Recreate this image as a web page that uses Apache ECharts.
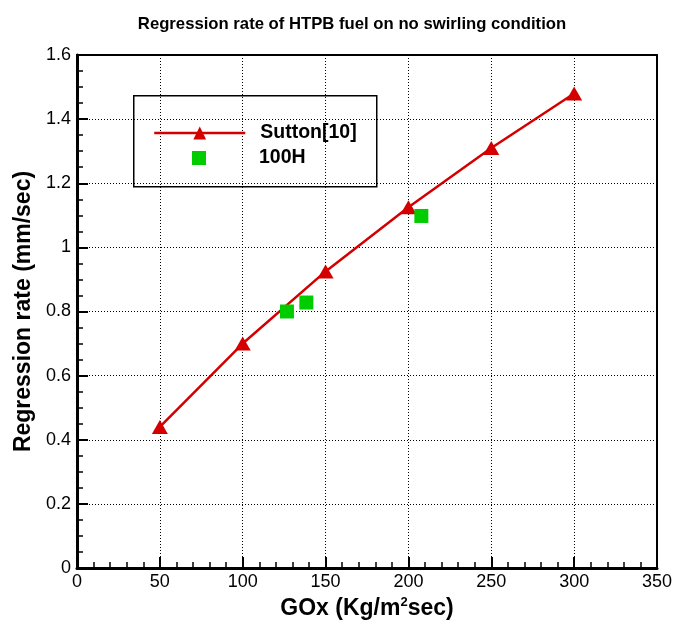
<!DOCTYPE html>
<html>
<head>
<meta charset="utf-8">
<script src="https://cdn.jsdelivr.net/npm/echarts@6/dist/echarts.min.js"></script>
<style>
  html, body { margin: 0; padding: 0; background: #fff; }
  #chart { width: 673px; height: 621px; }
</style>
</head>
<body>
<div id="chart"></div>
<script>
// Sutton[10] correlation: oxidizer mass flux vs. regression rate
const suttonGox = [50, 100, 150, 200, 250, 300];
const suttonRate = [0.44, 0.70, 0.925, 1.125, 1.31, 1.48];

// 100H measurements
const h100Gox = [126.7, 138.4, 207.8];
const h100Rate = [0.80, 0.828, 1.098];

const FONT = '"Liberation Sans", Arial, sans-serif';
const RED = '#d40000';
const GREEN = '#00cc00';

const chart = echarts.init(document.getElementById('chart'), null, { renderer: 'canvas' });

const pairs = (xs, ys) => xs.map((x, i) => [x, ys[i]]);

chart.setOption({
  backgroundColor: '#ffffff',
  animation: false,
  title: {
    text: 'Regression rate of HTPB fuel on no swirling condition',
    left: 347,
    textAlign: 'center',
    top: 11,
    textStyle: { fontFamily: FONT, fontSize: 16.7, fontWeight: 'bold', color: '#000' }
  },
  grid: {
    left: 77, right: 16, top: 55, bottom: 53,
    outerBoundsMode: 'none',
    show: true, borderColor: '#000', borderWidth: 2, backgroundColor: 'transparent'
  },
  legend: [
    {
      data: ['Sutton[10]'],
      left: 153, top: 123,
      itemWidth: 91, itemHeight: 16, padding: 0,
      lineStyle: { width: 2.5, color: RED },
      textStyle: { fontFamily: FONT, fontSize: 19.5, fontWeight: 'bold', color: '#000',
                   rich: { t: { fontFamily: FONT, fontSize: 19.5, fontWeight: 'bold', padding: [0, 0, 0, 10] } } },
      formatter: n => '{t|' + n + '}'
    },
    {
      data: ['100H'],
      left: 192, top: 148,
      itemWidth: 14, itemHeight: 14, padding: 0,
      textStyle: { fontFamily: FONT, fontSize: 19.5, fontWeight: 'bold', color: '#000',
                   rich: { t: { fontFamily: FONT, fontSize: 19.5, fontWeight: 'bold', padding: [0, 0, 0, 48] } } },
      formatter: n => '{t|' + n + '}'
    }
  ],
  graphic: [
    {
      type: 'rect', left: 133, top: 95, z: 0,
      shape: { width: 243, height: 91 },
      style: { fill: '#fff', stroke: '#000', lineWidth: 1.5 }
    }
  ],
  xAxis: {
    type: 'value', min: 0, max: 350, interval: 50,
    name: '{n|GOx (Kg/m}{s|2}{n|sec)}',
    nameLocation: 'middle', nameGap: 27,
    nameTextStyle: {
      rich: {
        n: { fontFamily: FONT, fontSize: 23, fontWeight: 'bold', color: '#000' },
        s: { fontFamily: FONT, fontSize: 13, fontWeight: 'bold', color: '#000', padding: [0, 0, 12, 0] }
      }
    },
    axisLine: { show: true, onZero: false, lineStyle: { color: '#000', width: 3 } },
    axisTick: { show: true, inside: true, length: 11, lineStyle: { color: '#000', width: 2 } },
    minorTick: { show: true, splitNumber: 5, length: 6, lineStyle: { color: '#000', width: 1.5 } },
    axisLabel: { fontFamily: FONT, fontSize: 18, color: '#000', margin: 5 },
    splitLine: { show: true, lineStyle: { color: '#000', type: [1, 2], width: 1 } }
  },
  yAxis: {
    type: 'value', min: 0, max: 1.6, interval: 0.2,
    name: 'Regression rate (mm/sec)',
    nameLocation: 'middle', nameGap: 38,
    nameTextStyle: { fontFamily: FONT, fontSize: 23, fontWeight: 'bold', color: '#000' },
    axisLine: { show: true, onZero: false, lineStyle: { color: '#000', width: 3 } },
    axisTick: { show: true, inside: true, length: 11, lineStyle: { color: '#000', width: 2 } },
    minorTick: { show: true, splitNumber: 4, length: 6, lineStyle: { color: '#000', width: 1.5 } },
    axisLabel: {
      fontFamily: FONT, fontSize: 18, color: '#000', margin: 6,
      formatter: v => (Math.round(v * 10) / 10).toString()
    },
    splitLine: { show: true, lineStyle: { color: '#000', type: [1, 2], width: 1 } }
  },
  series: [
    {
      name: 'Sutton[10]',
      type: 'line',
      data: pairs(suttonGox, suttonRate),
      symbol: 'triangle', symbolSize: [16, 14],
      itemStyle: { color: RED },
      lineStyle: { color: RED, width: 2.5 },
      z: 3
    },
    {
      name: '100H',
      type: 'scatter',
      data: pairs(h100Gox, h100Rate),
      symbol: 'rect', symbolSize: 14,
      itemStyle: { color: GREEN, opacity: 1 },
      z: 4
    }
  ]
});
</script>
</body>
</html>
